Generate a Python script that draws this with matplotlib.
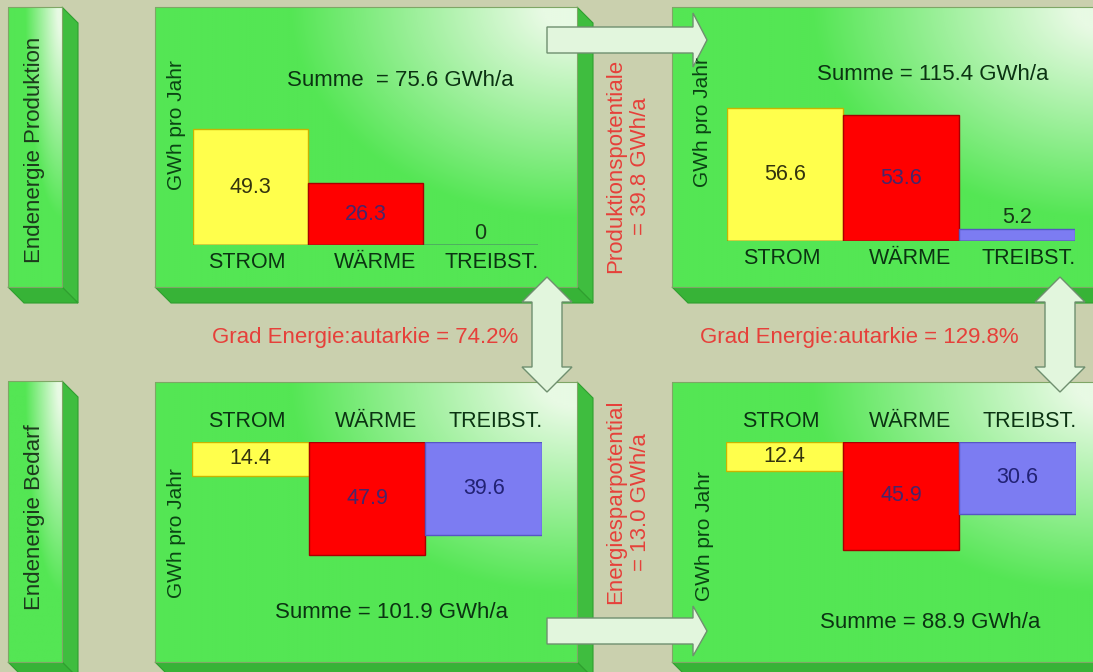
import numpy as np
import matplotlib
matplotlib.use("Agg")
import matplotlib.pyplot as plt
from matplotlib.patches import Polygon

plt.rcParams['font.family'] = ['Liberation Sans', 'DejaVu Sans']

#data (GWh pro Jahr)
kategorien = ['STROM', 'WÄRME', 'TREIBST.']
produktion_heute = [49.3, 26.3, 0]
produktion_potential = [56.6, 53.6, 5.2]
bedarf_heute = [14.4, 47.9, 39.6]
bedarf_ziel = [12.4, 45.9, 30.6]

#colors
BG = '#cad0ae'
GREEN = np.array([84, 230, 84]) / 255
PALE = np.array([232, 250, 228]) / 255
SIDE = '#3fbd3f'
BOTTOM = '#37b337'
RED_TXT = '#e6403a'
DARK = '#0b3312'
bar_farben = ['#ffff4c', '#ff0000', '#7c7cf2']
kanten = ['#c9b400', '#a80000', '#5656c4']
wert_farben = ['#33330e', '#46266a', '#222274']

W, H = 1093, 672
SCALE = 2.35  # px pro GWh

fig = plt.figure(figsize=(W / 100, H / 100), dpi=100)
fig.patch.set_facecolor(BG)
bg = fig.add_axes([0, 0, 1, 1])
bg.axis('off')


def box(x0, y0, x1, y1, d=16):
    # 3d kasten: seite, boden, dann front mit verlauf
    bg.add_patch(Polygon([(x1, y0), (x1 + d, y0 + d), (x1 + d, y1 + d), (x1, y1)],
                         closed=True, fc=SIDE, ec='#2f9f2f', lw=0.8, zorder=1))
    bg.add_patch(Polygon([(x0, y1), (x1, y1), (x1 + d, y1 + d), (x0 + d, y1 + d)],
                         closed=True, fc=BOTTOM, ec='#2f9f2f', lw=0.8, zorder=1))
    u = np.linspace(0, 1, 220)[None, :]
    v = np.linspace(0, 1, 140)[:, None]
    dist = np.sqrt((1 - u) ** 2 + (v * 0.9) ** 2)
    t = np.clip((dist - 0.08) / 0.6, 0, 1)[..., None]
    img = PALE * (1 - t) + GREEN * t
    bg.imshow(img, extent=(x0, x1, y1, y0), aspect='auto',
              interpolation='bilinear', zorder=2)
    bg.add_patch(Polygon([(x0, y0), (x1, y0), (x1, y1), (x0, y1)], closed=True,
                         fill=False, ec='#7fa666', lw=0.8, zorder=2))


def pfeil_h(x0, xh, x1, yc, bw, hw):
    pts = [(x0, yc - bw), (xh, yc - bw), (xh, yc - hw), (x1, yc),
           (xh, yc + hw), (xh, yc + bw), (x0, yc + bw)]
    bg.add_patch(Polygon(pts, closed=True, fc='#e2f6dd', ec='#6f8f6f', lw=1, zorder=4))


def pfeil_v(xc, yt, yb, hl, bw, hw):
    pts = [(xc, yt), (xc + hw, yt + hl), (xc + bw, yt + hl), (xc + bw, yb - hl),
           (xc + hw, yb - hl), (xc, yb), (xc - hw, yb - hl), (xc - bw, yb - hl),
           (xc - bw, yt + hl), (xc - hw, yt + hl)]
    bg.add_patch(Polygon(pts, closed=True, fc='#e2f6dd', ec='#6f8f6f', lw=1, zorder=4))


#kaesten
box(8, 7, 62, 287)
box(8, 381, 62, 662)
box(155, 7, 577, 287)
box(672, 7, 1110, 287)
box(155, 382, 577, 662)
box(672, 382, 1110, 662)

#pfeile
pfeil_h(547, 693, 707, 40, 13, 27)
pfeil_h(547, 693, 707, 631, 13, 25)
pfeil_v(547, 277, 392, 25, 15, 25)
pfeil_v(1060, 277, 392, 25, 15, 25)

bg.set_xlim(0, W)
bg.set_ylim(H, 0)

#texte
bg.text(35, 150, 'Endenergie Produktion', rotation=90, ha='center', va='center',
        fontsize=16, color='#1c3a1c', zorder=5)
bg.text(35, 517, 'Endenergie Bedarf', rotation=90, ha='center', va='center',
        fontsize=16, color='#1c3a1c', zorder=5)

sum_ph = sum(produktion_heute)
sum_pp = sum(produktion_potential)
sum_bh = sum(bedarf_heute)
sum_bz = sum(bedarf_ziel)

bg.text(287, 80, f'Summe  = {sum_ph:.1f} GWh/a', ha='left', va='center',
        fontsize=16, color=DARK, zorder=5)
bg.text(817, 75, f'Summe = {sum_pp:.1f} GWh/a', ha='left', va='center',
        fontsize=16, color=DARK, zorder=5)
bg.text(275, 612, f'Summe = {sum_bh:.1f} GWh/a', ha='left', va='center',
        fontsize=16, color=DARK, zorder=5)
bg.text(820, 623, f'Summe = {sum_bz:.1f} GWh/a', ha='left', va='center',
        fontsize=16, color=DARK, zorder=5)

bg.text(365, 337, f'Grad Energie:autarkie = {sum_ph / sum_bh * 100:.1f}%',
        ha='center', va='center', fontsize=16, color=RED_TXT, zorder=5)
bg.text(859, 337, f'Grad Energie:autarkie = {sum_pp / sum_bz * 100:.1f}%',
        ha='center', va='center', fontsize=16, color=RED_TXT, zorder=5)
bg.text(628, 166, f'Produktionspotentiale\n= {sum_pp - sum_ph:.1f} GWh/a',
        rotation=90, ha='center', va='center', multialignment='center',
        fontsize=16, color=RED_TXT, linespacing=1.2, zorder=5)
bg.text(628, 502, f'Energiesparpotential\n= {sum_bh - sum_bz:.1f} GWh/a',
        rotation=90, ha='center', va='center', multialignment='center',
        fontsize=16, color=RED_TXT, linespacing=1.2, zorder=5)

for x, y in [(177, 125), (703, 122), (176, 533), (704, 536)]:
    bg.text(x, y, 'GWh pro Jahr', rotation=90, ha='center', va='center',
            fontsize=15, color='#0b4414', zorder=5)


#balken diagramme
def px_rect(left, top, right, bottom):
    return [left / W, 1 - bottom / H, (right - left) / W, (bottom - top) / H]


def diagramm(werte, left, right, ref_y, oben):
    hoehe = 60 * SCALE
    if oben:
        ax = fig.add_axes(px_rect(left, ref_y - hoehe, right, ref_y))
        ax.set_ylim(0, 60)
    else:
        ax = fig.add_axes(px_rect(left, ref_y, right, ref_y + hoehe))
        ax.set_ylim(60, 0)
    ax.set_xlim(0, 3)
    ax.patch.set_alpha(0)
    ax.axis('off')
    x = np.arange(len(werte))
    ax.bar(x, werte, width=1, align='edge', color=bar_farben,
           edgecolor=kanten, linewidth=1)
    if oben:
        ax.plot([0, 3], [0, 0], color='#3a4a3a', lw=1)
    # werte
    for i, w in enumerate(werte):
        if w >= 10:
            ax.text(i + 0.5, w / 2, f'{w:.1f}', ha='center', va='center',
                    fontsize=15.5, color=wert_farben[i])
        else:
            txt = '0' if w == 0 else f'{w:.1f}'
            ax.annotate(txt, (i + 0.5, w), xytext=(0, 8), textcoords='offset points',
                        ha='center', va='center', fontsize=15.5, color='#173a17')
    # kategorien
    lab_x = [0.47, 1.58, 2.6]
    dy = -12.5 if oben else 14.5
    for lx, k in zip(lab_x, kategorien):
        ax.annotate(k, (lx, 0), xytext=(0, dy), textcoords='offset points',
                    ha='center', va='center', fontsize=15.5, color=DARK,
                    annotation_clip=False)
    return ax


diagramm(produktion_heute, 193, 538, 245, True)
diagramm(produktion_potential, 727, 1075, 241, True)
diagramm(bedarf_heute, 192, 542, 442, False)
diagramm(bedarf_ziel, 726, 1076, 442, False)

fig.savefig('out.png', dpi=100, facecolor=fig.get_facecolor())
